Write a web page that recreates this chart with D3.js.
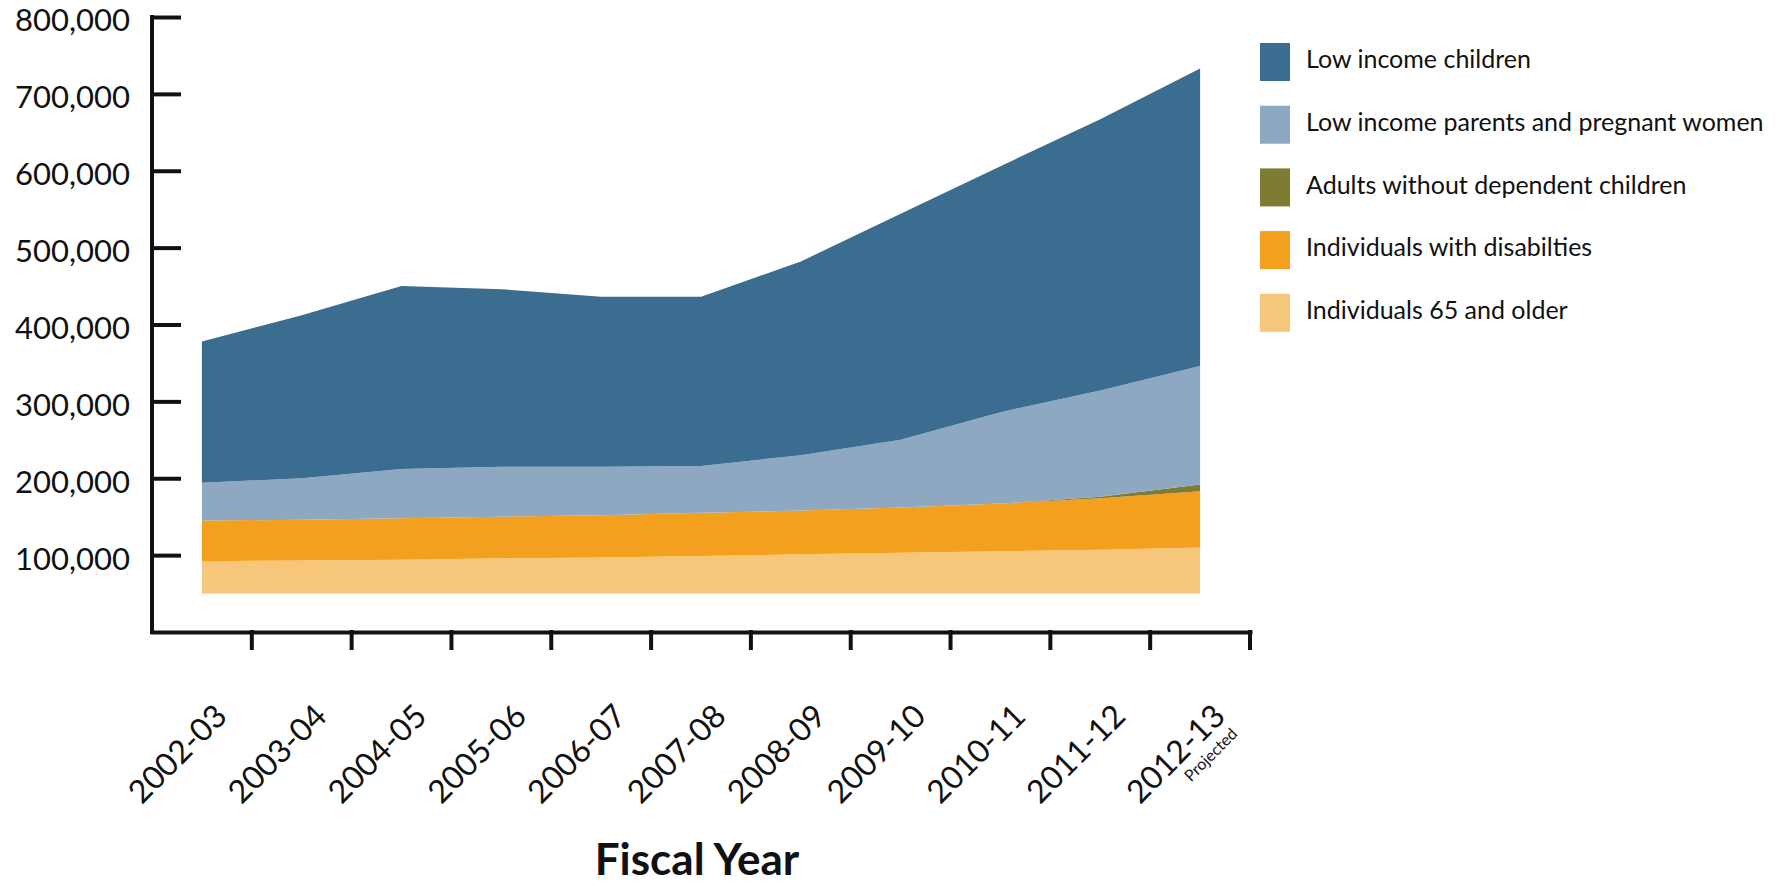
<!DOCTYPE html>
<html>
<head>
<meta charset="utf-8">
<script src="https://cdn.jsdelivr.net/npm/d3@7"></script>
<style>
  body { margin: 0; background: #fff; }
  text { font-family: Lato, "Open Sans", sans-serif; fill: #111; }
</style>
</head>
<body>
<div id="chart"></div>
<script>
var years = ["2002-03", "2003-04", "2004-05", "2005-06", "2006-07", "2007-08",
             "2008-09", "2009-10", "2010-11", "2011-12", "2012-13"];

// enrollment by group, stacked from the bottom up
var seniors  = [42000, 43000, 44000, 46000, 47000, 49000, 51000, 53000, 55000, 57000, 60000];
var disabled = [53000, 53000, 54000, 54000, 55000, 56000, 57000, 59000, 62000, 67000, 73000];
var adults   = [0, 0, 0, 0, 0, 0, 0, 0, 0, 2000, 9000];
var parents  = [49000, 54000, 64000, 65000, 63000, 61000, 72000, 88000, 119000, 138000, 154000];
var children = [184000, 212000, 238000, 231000, 221000, 220000, 252000, 294000, 320000, 353000, 387000];

var seriesKeys = ["seniors", "disabled", "adults", "parents", "children"];
var seriesNames = {
  children: "Low income children",
  parents: "Low income parents and pregnant women",
  adults: "Adults without dependent children",
  disabled: "Individuals with disabilties",
  seniors: "Individuals 65 and older"
};
var legendOrder = ["children", "parents", "adults", "disabled", "seniors"];

var yTicks = [100000, 200000, 300000, 400000, 500000, 600000, 700000, 800000];
var baseline = 50000;
var projectedYear = "2012-13";
var projectedNote = "Projected";
var xTitle = "Fiscal Year";

var width = 1785;
var height = 886;

var color = d3.scaleOrdinal()
  .domain(seriesKeys)
  .range(["#f6c67a", "#f4a01f", "#7e7c33", "#8ea8c1", "#3a6d8f"]);

/* Format Data */
var table = years.map(function(y, i) {
  return {
    year: y,
    seniors: seniors[i],
    disabled: disabled[i],
    adults: adults[i],
    parents: parents[i],
    children: children[i]
  };
});

var stacked = d3.stack().keys(seriesKeys)(table);

/* Scale */
var xScale = d3.scaleBand()
  .domain(years)
  .range([152, 1250])
  .padding(0);

var yScale = d3.scaleLinear()
  .domain([0, 800000])
  .range([632, 17]);

var bw = xScale.bandwidth();

/* Add SVG */
var svg = d3.select("#chart").append("svg")
  .attr("width", width)
  .attr("height", height);

/* Areas */
var area = d3.area()
  .x(d => xScale(d.data.year) + bw / 2)
  .y0(d => yScale(baseline + d[0]))
  .y1(d => yScale(baseline + d[1]));

svg.append("g")
  .selectAll("path")
  .data(stacked).enter()
  .append("path")
  .attr("d", area)
  .attr("fill", d => color(d.key));

/* Axes */
var yAxis = d3.axisLeft(yScale)
  .tickValues(yTicks)
  .tickFormat(d3.format(","))
  .tickSizeInner(-27)
  .tickSizeOuter(0)
  .tickPadding(22);

var gy = svg.append("g")
  .attr("transform", "translate(152,0)")
  .call(yAxis);

gy.select(".domain")
  .attr("d", "M0," + yScale(0) + "V" + yScale(800000));

gy.selectAll(".tick text")
  .style("font-size", "31px")
  .attr("dy", "0.45em")
  .attr("fill", "#111");

var xAxis = d3.axisBottom(xScale)
  .tickSizeInner(16)
  .tickSizeOuter(0);

var gx = svg.append("g")
  .attr("transform", "translate(0," + yScale(0) + ")")
  .call(xAxis);

// tick marks sit on band edges, labels at band centres
gx.selectAll(".tick line")
  .attr("transform", "translate(" + (bw / 2) + ",0)");

var labelPos = "translate(27,86) rotate(-45)";

gx.selectAll(".tick text")
  .attr("x", 0)
  .attr("y", 0)
  .attr("dy", null)
  .attr("transform", labelPos)
  .style("text-anchor", "end")
  .style("font-size", "32px")
  .attr("fill", "#111");

gx.selectAll(".tick")
  .filter(d => d === projectedYear)
  .append("text")
  .attr("transform", labelPos)
  .attr("x", -4)
  .attr("y", 20)
  .style("text-anchor", "end")
  .style("font-size", "16px")
  .attr("fill", "#111")
  .text(projectedNote);

svg.selectAll(".domain, .tick line")
  .attr("stroke", "#111")
  .attr("stroke-width", 4)
  .attr("stroke-linecap", "square");

svg.append("text")
  .attr("x", 697)
  .attr("y", 875)
  .attr("text-anchor", "middle")
  .style("font-size", "44px")
  .style("font-weight", "bold")
  .text(xTitle);

/* Legend */
var legend = svg.append("g")
  .selectAll("g")
  .data(legendOrder).enter()
  .append("g")
  .attr("transform", (d, i) => "translate(1260," + (43 + i * 62.7) + ")");

legend.append("rect")
  .attr("width", 30)
  .attr("height", 38)
  .attr("fill", d => color(d));

legend.append("text")
  .attr("x", 46)
  .attr("y", 19)
  .attr("dominant-baseline", "middle")
  .style("font-size", "25px")
  .text(d => seriesNames[d]);
</script>
</body>
</html>
